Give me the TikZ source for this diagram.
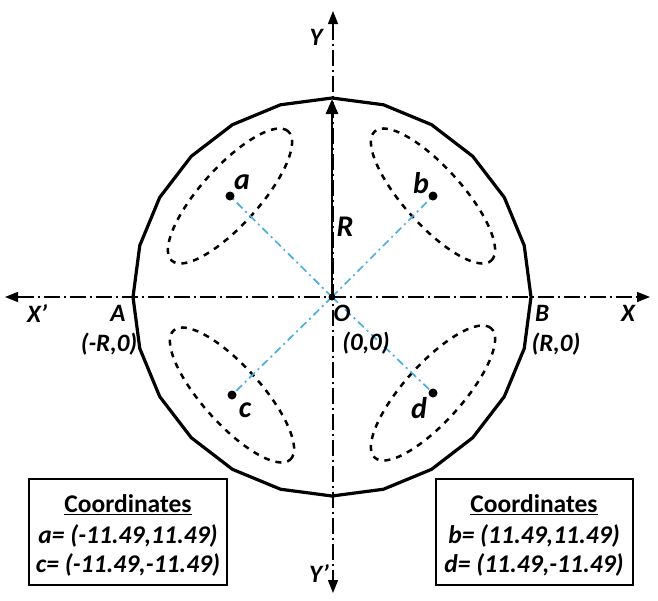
\documentclass[tikz,border=0pt]{standalone}
\usepackage{fontspec}
\setmainfont{Carlito}
\usetikzlibrary{arrows.meta}
\definecolor{axblue}{RGB}{75,175,225}
\begin{document}
\begin{tikzpicture}[x=1pt,y=-1pt,
  axisline/.style={line width=1.4pt, dash pattern=on 16pt off 4pt on 2pt off 4pt, {Triangle[length=13pt,width=10pt]}-{Triangle[length=13pt,width=10pt]}},
  circ/.style={line width=3.2pt, line join=round},
  ell/.style={line width=2.5pt, dash pattern=on 6pt off 6pt},
  ray/.style={axblue, line width=1.7pt, dash pattern=on 8pt off 4pt on 2pt off 4pt},
  lbl/.style={font=\fontsize{25}{25}\selectfont\bfseries\itshape, inner sep=0pt},
  big/.style={font=\fontsize{30}{30}\selectfont\bfseries\itshape, inner sep=0pt},
  boxt/.style={font=\fontsize{25.5}{25.5}\selectfont\bfseries\itshape, inner sep=0pt},
  frame/.style={draw, line width=2.4pt}
]
\useasboundingbox (0,0) rectangle (658,600);
% key points
\coordinate (O) at (332,297);
\coordinate (a) at (230,196);
\coordinate (b) at (433,196);
\coordinate (c) at (232,395);
\coordinate (d) at (433,393);
\coordinate (xl) at (5,297);
\coordinate (xr) at (650,297);
\coordinate (yt) at (333,11);
\coordinate (yb) at (333,593);
\coordinate (rt) at (332,99);
% axes
\draw[axisline] (xl) -- (xr);
\draw[axisline] (yt) -- (yb);
% polygon circle
\draw[circ, shift={(O)}] (0:199pt) foreach \k in {1,...,23} { -- (\k*15:199pt) } -- cycle;
% ellipses
\draw[ell, rotate around={48:(a)}] (a) ellipse [x radius=87pt, y radius=29pt];
\draw[ell, rotate around={48:(d)}] (d) ellipse [x radius=87pt, y radius=29pt];
\draw[ell, rotate around={-48:(b)}] (b) ellipse [x radius=87pt, y radius=29pt];
\draw[ell, rotate around={-48:(c)}] (c) ellipse [x radius=87pt, y radius=29pt];
% rays
\draw[ray] (O) -- (a);
\draw[ray] (O) -- (b);
\draw[ray] (O) -- (c);
\draw[ray] (O) -- (d);
% R arrow
\draw[line width=2.8pt, -{Triangle[length=15pt,width=12pt]}] (O) -- (rt);
% dots
\fill (a) circle (4.5pt);
\fill (b) circle (4.5pt);
\fill (c) circle (4.5pt);
\fill (d) circle (4.5pt);
\fill (O) circle (3.5pt);
% labels
\node[lbl] (lY) at (316,37) {Y};
\node[lbl] (lYp) at (319,573) {Y’};
\node[lbl] (lXp) at (37,313) {X’};
\node[lbl] (lX) at (628,313) {X};
\node[lbl] (lA) at (118,313) {A};
\node[lbl] (lAc) at (109,344) {(-R,0)};
\node[lbl] (lB) at (542,313) {B};
\node[lbl] (lBc) at (556,344) {(R,0)};
\node[lbl] (lO) at (342,313) {O};
\node[lbl] (lOc) at (366,343) {(0,0)};
\node[big] (lR) at (345,227) {R};
\node[big] (la) at (242,182) {a};
\node[big] (lb) at (421,183) {b};
\node[big] (lc) at (245,410) {c};
\node[big] (ld) at (419,408) {d};
% boxes
\draw[frame] (29,479) rectangle (227,585);
\draw[frame] (436,479) rectangle (633,585);
\node[boxt, font=\fontsize{25.5}{25.5}\selectfont\bfseries] (c1) at (128,505) {\underline{Coordinates}};
\node[boxt] (c2) at (128,536) {a= (-11.49,11.49)};
\node[boxt] (c3) at (128,565) {c= (-11.49,-11.49)};
\node[boxt, font=\fontsize{25.5}{25.5}\selectfont\bfseries] (d1) at (534,505) {\underline{Coordinates}};
\node[boxt] (d2) at (534,536) {b= (11.49,11.49)};
\node[boxt] (d3) at (534,565) {d= (11.49,-11.49)};
\end{tikzpicture}
\end{document}
